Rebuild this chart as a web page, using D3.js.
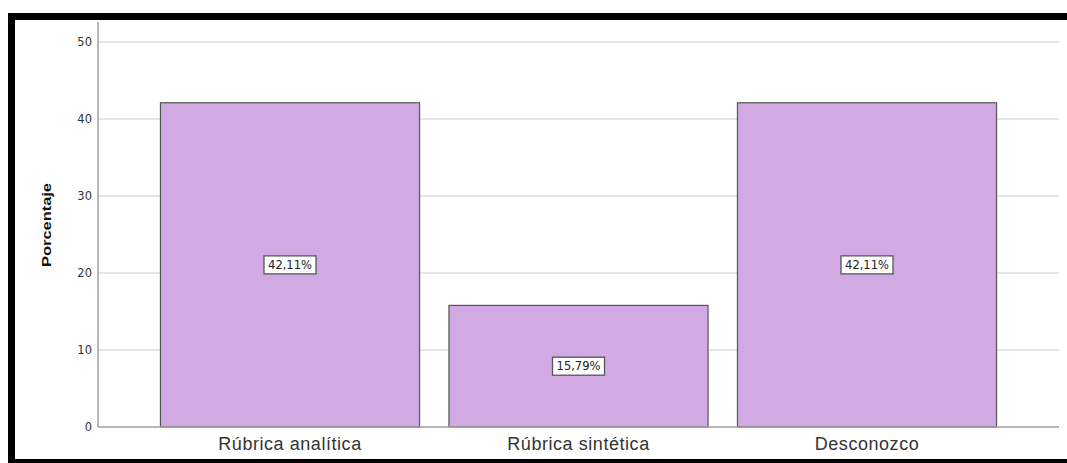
<!DOCTYPE html>
<html><head><meta charset="utf-8">
<script src="https://cdn.jsdelivr.net/npm/d3@7"></script>
<style>body{margin:0;background:#fff;}svg{display:block;font-family:"Liberation Sans",Arial,sans-serif;}</style>
</head><body>
<svg id="c" width="1067" height="463"></svg>
<script>
const categories = ["Rúbrica analítica", "Rúbrica sintética", "Desconozco"];
const values = [42.11, 15.79, 42.11];
const valueLabels = ["42,11%", "15,79%", "42,11%"];
const yTicks = [0, 10, 20, 30, 40, 50];
const yLabel = "Porcentaje";

(function () {
const svg = d3.select("#c");
const W = 1067, H = 463;
svg.append("rect").attr("width", W).attr("height", H).attr("fill", "#fff");
// outer frame
svg.append("rect").attr("x", 8).attr("y", 13).attr("width", W).attr("height", 7).attr("fill", "#000");
svg.append("rect").attr("x", 8).attr("y", 13).attr("width", 7).attr("height", H).attr("fill", "#000");
svg.append("rect").attr("x", 8).attr("y", 459).attr("width", W).attr("height", 4).attr("fill", "#000");

const pL = 98, pR = 1059, pT = 42, pB = 427;
const y = d3.scaleLinear().domain([0, 50]).range([pB, pT]);
const x = d3.scaleBand().domain(categories).range([pL, pR]).paddingInner(0.102).paddingOuter(0.2165);

// gridlines
svg.append("g").selectAll("line").data(yTicks.filter(d => d > 0)).join("line")
  .attr("x1", pL).attr("x2", pR).attr("y1", d => y(d)).attr("y2", d => y(d))
  .attr("stroke", "#dcdcdc").attr("stroke-width", 1.5);

// y axis
const ya = svg.append("g").attr("transform", `translate(${pL},0)`)
  .call(d3.axisLeft(y).tickValues(yTicks).tickSize(0).tickPadding(6));
ya.select(".domain").attr("stroke", "#a0a0a0").attr("stroke-width", 1.5).attr("d", `M0,${pT - 20}V${pB}`);
ya.selectAll("text").attr("font-size", 11.5).attr("fill", "#333").attr("font-family", "DejaVu Sans, Verdana, sans-serif");

// bars
svg.append("g").selectAll("rect").data(values).join("rect")
  .attr("x", (d, i) => x(categories[i])).attr("width", x.bandwidth())
  .attr("y", d => y(d)).attr("height", d => y(0) - y(d))
  .attr("fill", "#d1a9e3").attr("stroke", "#555").attr("stroke-width", 1.2);

// x axis
const xa = svg.append("g").attr("transform", `translate(0,${pB})`)
  .call(d3.axisBottom(x).tickSize(0).tickPadding(0));
xa.select(".domain").attr("stroke", "#a0a0a0").attr("stroke-width", 1.5).attr("d", `M${pL},0H${pR}`);
xa.selectAll("text").attr("font-size", 18).attr("letter-spacing", 0.55).attr("fill", "#333")
  .attr("dy", null).attr("y", 23)
  .attr("font-family", "Liberation Sans, Arial, sans-serif");

// value labels
const lg = svg.append("g").selectAll("g").data(values).join("g")
  .attr("transform", (d, i) => `translate(${x(categories[i]) + x.bandwidth() / 2},${(y(d) + y(0)) / 2})`);
lg.append("rect").attr("x", -26).attr("y", -9).attr("width", 52).attr("height", 18)
  .attr("fill", "#fff").attr("stroke", "#555").attr("stroke-width", 1.3);
lg.append("text").text((d, i) => valueLabels[i]).attr("text-anchor", "middle").attr("dy", "0.37em")
  .attr("font-size", 11.5).attr("fill", "#222").attr("font-family", "DejaVu Sans, Verdana, sans-serif");

// y label
svg.append("text").attr("transform", `translate(51,225) rotate(-90)`)
  .attr("text-anchor", "middle").attr("font-size", 12).attr("font-weight", "bold").attr("fill", "#111")
  .attr("textLength", 84).attr("lengthAdjust", "spacingAndGlyphs")
  .attr("font-family", "Liberation Sans, Arial, sans-serif")
  .text(yLabel);
})();
</script>
</body></html>
